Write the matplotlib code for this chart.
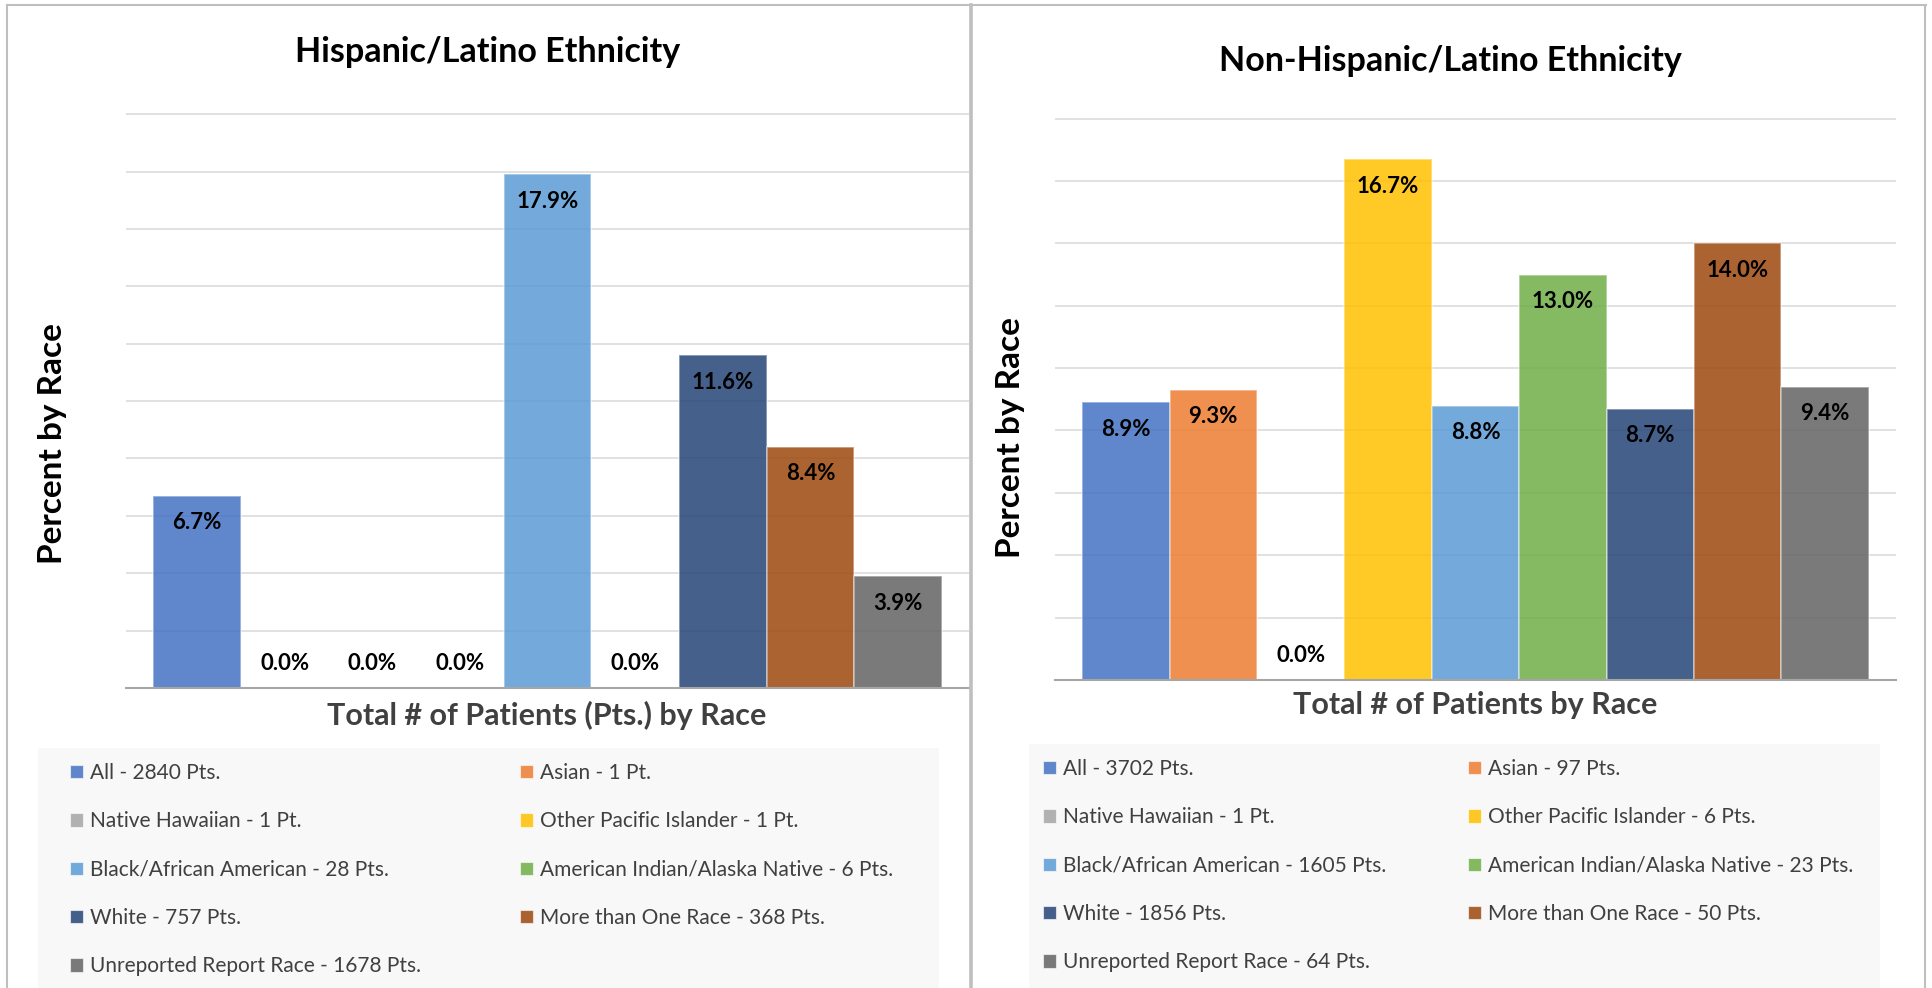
import matplotlib
matplotlib.use("Agg")
import matplotlib.pyplot as plt
from matplotlib.colors import to_rgba
from matplotlib.patches import Patch, Rectangle
from matplotlib.lines import Line2D

plt.rcParams["font.family"] = ["Lato", "DejaVu Sans"]

# Data
races = ["All", "Asian", "Native Hawaiian", "Other Pacific Islander",
         "Black/African American", "American Indian/Alaska Native",
         "White", "More than One Race", "Unreported Report Race"]
colors = ["#4472C4", "#ED7D31", "#A5A5A5", "#FFC000", "#5B9BD5",
          "#70AD47", "#264478", "#9E480E", "#636363"]

hisp_pct = [6.7, 0.0, 0.0, 0.0, 17.9, 0.0, 11.6, 8.4, 3.9]
hisp_pts = [2840, 1, 1, 1, 28, 6, 757, 368, 1678]

nonhisp_pct = [8.9, 9.3, 0.0, 16.7, 8.8, 13.0, 8.7, 14.0, 9.4]
nonhisp_pts = [3702, 97, 1, 6, 1605, 23, 1856, 50, 64]

W, H = 1933, 988


def fx(px):
    return px / W


def fy(py):
    return 1 - py / H


def pts_label(race, n):
    return f"{race} - {n} {'Pt.' if n == 1 else 'Pts.'}"


def draw_panel(fig, rect, ymax, pct, pts, title, title_xy, xlabel, xlabel_xy,
               ylabel_xy, legend_box, legend_x, legend_top):
    left, right, top, bottom = rect
    ax = fig.add_axes([fx(left), fy(bottom), (right - left) / W, (bottom - top) / H])

    face = [to_rgba(c, 0.85) for c in colors]
    x = list(range(len(pct)))
    ax.bar(x, pct, width=1.0, color=face, edgecolor=(1, 1, 1, 0.45),
           linewidth=1.2, zorder=3)

    ax.set_xlim(-0.81, len(pct) - 0.19)
    ax.set_ylim(0, ymax * 1.002)
    ax.set_yticks(range(2, ymax + 1, 2))
    ax.yaxis.grid(True, color="#D9D9D9", linewidth=1.1)
    ax.set_axisbelow(True)
    ax.tick_params(left=False, bottom=False, labelleft=False, labelbottom=False)
    for s in ["top", "right", "left"]:
        ax.spines[s].set_visible(False)
    ax.spines["bottom"].set_color("#A6A6A6")
    ax.spines["bottom"].set_linewidth(1.5)
    ax.spines["bottom"].set_zorder(4)

    # data labels
    for i, v in enumerate(pct):
        off = -27 if v > 0 else 25
        ax.annotate(f"{v:.1f}%", (i, v), xytext=(0, off), textcoords="offset pixels",
                    ha="center", va="center", fontsize=16, fontweight="bold",
                    color="black", zorder=5)

    fig.text(fx(title_xy[0]), fy(title_xy[1]), title, ha="center", va="center",
             fontsize=24.5, fontweight="bold", color="black")
    fig.text(fx(xlabel_xy[0]), fy(xlabel_xy[1]), xlabel, ha="center", va="center",
             fontsize=22, fontweight="bold", color="#404040")
    fig.text(fx(ylabel_xy[0]), fy(ylabel_xy[1]), "Percent by Race", ha="center",
             va="center", rotation=90, fontsize=24, fontweight="bold", color="black")

    # legend background
    x0, y0, x1, y1 = legend_box
    fig.add_artist(Rectangle((fx(x0), fy(y1)), (x1 - x0) / W, (y1 - y0) / H,
                             transform=fig.transFigure, facecolor="#F8F8F8",
                             edgecolor="none", zorder=0))

    handles = [Patch(facecolor=face[i], edgecolor=(1, 1, 1, 0.6), linewidth=0.8)
               for i in range(len(races))]
    labels = [pts_label(r, n) for r, n in zip(races, pts)]
    for idx, lx in (([0, 2, 4, 6, 8], legend_x[0]), ([1, 3, 5, 7], legend_x[1])):
        fig.legend([handles[i] for i in idx], [labels[i] for i in idx],
                   loc="upper left", bbox_to_anchor=(fx(lx), fy(legend_top)),
                   frameon=False, borderpad=0, borderaxespad=0, fontsize=15,
                   labelcolor="#404040", handlelength=0.62, handleheight=0.62,
                   handletextpad=0.35, labelspacing=1.36)
    return ax


fig = plt.figure(figsize=(W / 100, H / 100), dpi=100)
fig.patch.set_facecolor("white")

draw_panel(fig, (126, 969, 113, 688), 20, hisp_pct, hisp_pts,
           "Hispanic/Latino Ethnicity", (488, 52),
           "Total # of Patients (Pts.) by Race", (547, 715), (53, 444),
           (38, 748, 939, 988), (70, 520), 763)

draw_panel(fig, (1055, 1896, 117.5, 680), 18, nonhisp_pct, nonhisp_pts,
           "Non-Hispanic/Latino Ethnicity", (1450, 61),
           "Total # of Patients by Race", (1475, 705), (1011, 438),
           (1029, 744, 1880, 988), (1043, 1468), 759)

# panel borders
border = "#BFBFBF"
fig.add_artist(Line2D([fx(7), fx(1926)], [fy(5.5), fy(5.5)], transform=fig.transFigure,
                      color=border, linewidth=1.5, zorder=10))
fig.add_artist(Line2D([fx(7.5), fx(7.5)], [fy(5), fy(988)], transform=fig.transFigure,
                      color=border, linewidth=1.5, zorder=10))
fig.add_artist(Line2D([fx(971), fx(971)], [fy(5), fy(988)], transform=fig.transFigure,
                      color=border, linewidth=2.6, zorder=10))
fig.add_artist(Line2D([fx(1925), fx(1925)], [fy(5), fy(988)], transform=fig.transFigure,
                      color=border, linewidth=1.5, zorder=10))

fig.savefig("out.png", dpi=100)
